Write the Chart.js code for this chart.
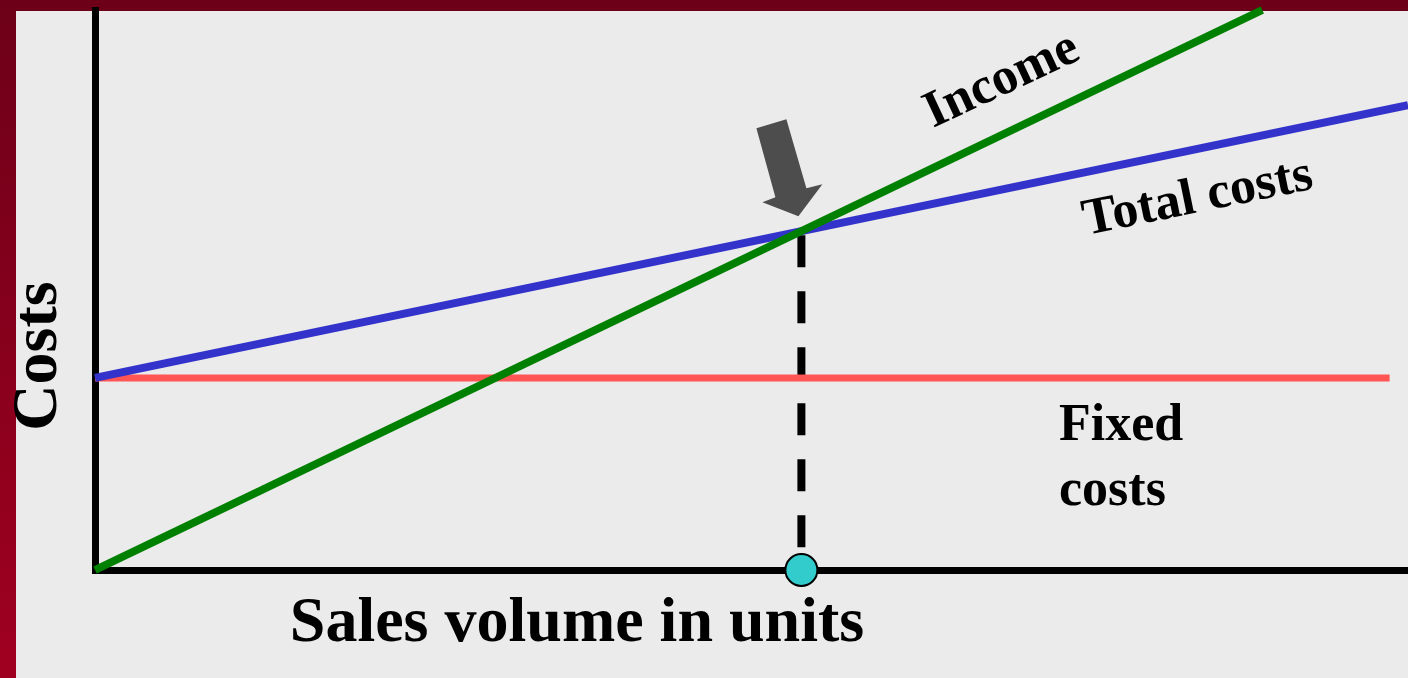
<!DOCTYPE html>
<html>
<head>
<meta charset="utf-8">
<script src="https://cdn.jsdelivr.net/npm/chart.js@4.4.1/dist/chart.umd.min.js"></script>
<style>
  html, body { margin: 0; padding: 0; width: 1408px; height: 678px; overflow: hidden; background: #ebebeb; }
  #topbar { position: absolute; left: 0; top: 0; width: 1408px; height: 11px; background: #6d0018; }
  #leftbar { position: absolute; left: 0; top: 0; width: 16px; height: 678px; background: linear-gradient(#6d0018, #a00020); }
  #wrap { position: absolute; left: 0; top: 0; width: 1408px; height: 678px; }
</style>
</head>
<body>
<div id="topbar"></div>
<div id="leftbar"></div>
<div id="wrap"><canvas id="c" width="1408" height="678"></canvas></div>
<script>
// ---- data (sales volume units 0..100, costs 0..100) ----
const incomeX = [0, 88.9];
const incomeY = [0, 100];
const totalCostX = [0, 100];
const totalCostY = [34.3, 83.0];
const fixedCostX = [0, 98.6];
const fixedCostY = [34.3, 34.3];
const breakEvenX = [53.8, 53.8];
const breakEvenY = [60.5, 0];
const breakEvenPoint = [{ x: 53.8, y: 0 }];
const labels = { income: 'Income', total: 'Total costs', fixed: ['Fixed', 'costs'], xTitle: 'Sales volume in units', yTitle: 'Costs' };

const pts = (xs, ys) => xs.map((x, i) => ({ x: x, y: ys[i] }));

const FONT = '"Liberation Serif", "Times New Roman", serif';

const annotations = {
  id: 'annotations',
  afterDatasetsDraw(chart) {
    const ctx = chart.ctx;
    const xs = chart.scales.x, ys = chart.scales.y;
    ctx.save();
    // arrow pointing at break-even intersection
    const bx = xs.getPixelForValue(breakEvenX[0]);
    const by = ys.getPixelForValue(breakEvenY[0]);
    const arrow = [[-45, -103], [-15, -112], [5, -43], [21, -47], [-3, -15], [-39, -29], [-26, -34]];
    ctx.fillStyle = '#4d4d4d';
    ctx.beginPath();
    arrow.forEach((p, i) => { if (i === 0) ctx.moveTo(bx + p[0], by + p[1]); else ctx.lineTo(bx + p[0], by + p[1]); });
    ctx.closePath();
    ctx.fill();

    ctx.fillStyle = '#000';
    ctx.textBaseline = 'alphabetic';
    // Income label
    ctx.font = 'bold 52px ' + FONT;
    ctx.save();
    ctx.translate(933, 128);
    ctx.rotate(-25 * Math.PI / 180);
    ctx.textAlign = 'left';
    ctx.fillText(labels.income, 0, 0);
    ctx.restore();
    // Total costs label
    ctx.save();
    ctx.translate(1086, 235);
    ctx.rotate(-11.5 * Math.PI / 180);
    ctx.textAlign = 'left';
    ctx.fillText(labels.total, 0, 0);
    ctx.restore();
    // Fixed costs
    ctx.textAlign = 'left';
    ctx.fillText(labels.fixed[0], 1059, 440);
    ctx.fillText(labels.fixed[1], 1059, 505);
    // axis titles
    ctx.font = 'bold 64px ' + FONT;
    ctx.textAlign = 'center';
    ctx.fillText(labels.xTitle, 577, 641);
    ctx.save();
    ctx.translate(56, 356);
    ctx.rotate(-Math.PI / 2);
    ctx.fillText(labels.yTitle, 0, 0);
    ctx.restore();
    ctx.restore();
  }
};

new Chart(document.getElementById('c'), {
  type: 'line',
  data: {
    datasets: [
      { data: breakEvenPoint, showLine: false, pointRadius: 16, pointBackgroundColor: '#33cccc', pointBorderColor: '#000', pointBorderWidth: 2, order: 0, clip: false },
      { data: pts(incomeX, incomeY), borderColor: '#008000', borderWidth: 8, pointRadius: 0, order: 1, clip: false },
      { data: pts(totalCostX, totalCostY), borderColor: '#3333cc', borderWidth: 8, pointRadius: 0, order: 2, clip: false },
      { data: pts(fixedCostX, fixedCostY), borderColor: '#ff5555', borderWidth: 7, pointRadius: 0, order: 3, clip: false },
      { data: pts(breakEvenX, breakEvenY), borderColor: '#000', borderWidth: 8, borderDash: [32, 24], borderDashOffset: -4, pointRadius: 0, order: 4, clip: false }
    ]
  },
  options: {
    responsive: false,
    animation: false,
    events: [],
    layout: { autoPadding: false, padding: { left: 95, right: 0, top: 10, bottom: 108 } },
    plugins: { legend: { display: false }, tooltip: { enabled: false } },
    scales: {
      x: {
        type: 'linear', min: 0, max: 100,
        ticks: { display: false }, grid: { display: false },
        border: { display: true, color: '#000', width: 7 },
        afterFit: s => { s.height = 0; }
      },
      y: {
        type: 'linear', min: 0, max: 100,
        ticks: { display: false }, grid: { display: false },
        border: { display: true, color: '#000', width: 7 },
        afterFit: s => { s.width = 0; }
      }
    }
  },
  plugins: [annotations]
});
</script>
</body>
</html>
